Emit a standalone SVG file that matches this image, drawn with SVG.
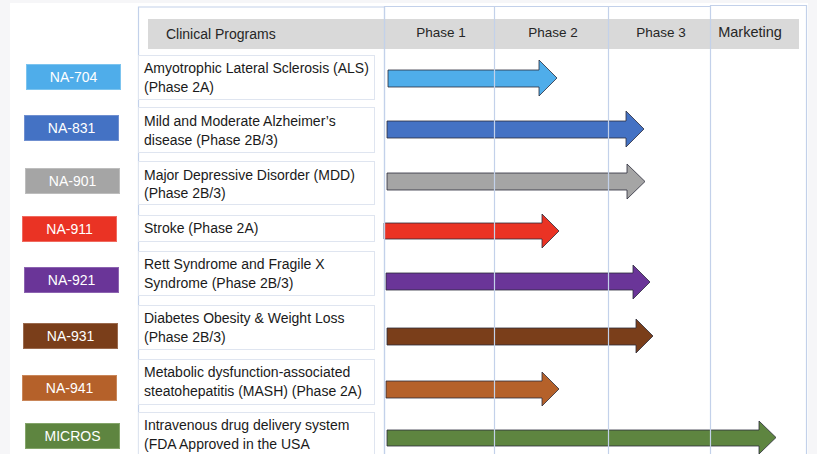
<svg xmlns="http://www.w3.org/2000/svg" width="817" height="454" viewBox="0 0 817 454">
<style>
  .bg{fill:#f6f6f8}
  .grid{fill:none;stroke:#c3d1ea;stroke-width:1.2}
  .hdr{fill:#d9d9d9}
  .ht{font-family:"Liberation Sans",Arial,sans-serif;font-size:13.5px;fill:#262626;text-anchor:middle}
  .htl{font-family:"Liberation Sans",Arial,sans-serif;font-size:14px;fill:#262626}
  .lt{font-family:"Liberation Sans",Arial,sans-serif;font-size:14px;fill:#ffffff;text-anchor:middle}
  .desc{fill:#ffffff;stroke:#dfe5f0;stroke-width:1}
  .dt{font-family:"Liberation Sans",Arial,sans-serif;font-size:14px;fill:#1a1a1a}
  .arr{stroke:#2b2b3a;stroke-width:0.8;stroke-linejoin:miter}
</style>
<rect class="bg" x="0" y="0" width="817" height="454"/>
<rect x="10" y="3" width="798" height="451" fill="#ffffff"/>

<g id="header">
  <rect class="hdr" x="148" y="19" width="651" height="30"/>
  <text class="htl" x="166" y="39">Clinical Programs</text>
  <text class="ht" x="441" y="37">Phase 1</text>
  <text class="ht" x="553" y="37">Phase 2</text>
  <text class="ht" x="661" y="37">Phase 3</text>
  <text class="ht" x="750" y="37" style="font-size:14.5px">Marketing</text>
</g>

<g id="arrows">
  <polygon class="arr" fill="#4fadea" points="388,70 539,70 539,60 557,78 539,96 539,87 388,87"/>
  <polygon class="arr" fill="#4472c4" points="387,121 626,121 626,111 644,129 626,147 626,138 387,138"/>
  <polygon class="arr" fill="#a5a5a5" points="387,173 627,173 627,164 645,181.5 627,199 627,190 387,190"/>
  <polygon class="arr" fill="#ea3324" points="384,223 542,223 542,214 559,231 542,248 542,239 384,239"/>
  <polygon class="arr" fill="#6a3598" points="386,273 633,273 633,265 650,282 633,299 633,290 386,290"/>
  <polygon class="arr" fill="#7a3e1a" points="387,328 636,328 636,319 653,336 636,353 636,345 387,345"/>
  <polygon class="arr" fill="#b5612a" points="386,381 542,381 542,372 559,389 542,406 542,398 386,398"/>
  <polygon class="arr" fill="#5e8540" points="387,430 759,430 759,421 776,437.5 759,454 759,446 387,446"/>
</g>

<g id="grid">
  <path class="grid" d="M138.5,460 V7 H384.5 V460"/>
  <path class="grid" d="M384.5,460 V6.5 H494.5 V460"/>
  <path class="grid" d="M494.5,6.5 H608.5 V460"/>
  <path class="grid" d="M608.5,6.5 H710.5"/>
  <path class="grid" d="M710.5,460 V5.5 H806.5 V460"/>
</g>

<g id="row-na704">
  <rect class="desc" x="138.5" y="55.5" width="236" height="44"/>
  <text class="dt" x="144" y="73">Amyotrophic Lateral Sclerosis (ALS)</text>
  <text class="dt" x="144" y="92">(Phase 2A)</text>
  <rect x="26.5" y="64.5" width="94" height="25" fill="#4fadea" stroke="#7cc4ef"/>
  <text class="lt" x="73.5" y="82">NA-704</text>
</g>

<g id="row-na831">
  <rect class="desc" x="138.5" y="107.5" width="236" height="45"/>
  <text class="dt" x="144" y="125.5">Mild and Moderate Alzheimer’s</text>
  <text class="dt" x="144" y="144.5">disease (Phase 2B/3)</text>
  <rect x="24.5" y="115.5" width="94" height="25" fill="#4472c4" stroke="#6f8fd0"/>
  <text class="lt" x="71.5" y="133">NA-831</text>
</g>

<g id="row-na901">
  <rect class="desc" x="138.5" y="161.5" width="236" height="43"/>
  <text class="dt" x="144" y="179.5">Major Depressive Disorder (MDD)</text>
  <text class="dt" x="144" y="198">(Phase 2B/3)</text>
  <rect x="25.5" y="168.5" width="94" height="25" fill="#a5a5a5" stroke="#bdbdbd"/>
  <text class="lt" x="72.5" y="186">NA-901</text>
</g>

<g id="row-na911">
  <rect class="desc" x="138.5" y="215.5" width="236" height="26"/>
  <text class="dt" x="144" y="233">Stroke (Phase 2A)</text>
  <rect x="22.5" y="216.5" width="94" height="25" fill="#ea3324" stroke="#f06a5f"/>
  <text class="lt" x="69.5" y="234">NA-911</text>
</g>

<g id="row-na921">
  <rect class="desc" x="138.5" y="251.5" width="236" height="44"/>
  <text class="dt" x="144" y="268.5">Rett Syndrome and Fragile X</text>
  <text class="dt" x="144" y="287.5">Syndrome (Phase 2B/3)</text>
  <rect x="24.5" y="267.5" width="94" height="25" fill="#6a3598" stroke="#8c63b0"/>
  <text class="lt" x="71.5" y="285">NA-921</text>
</g>

<g id="row-na931">
  <rect class="desc" x="138.5" y="305.5" width="236" height="44"/>
  <text class="dt" x="144" y="323">Diabetes Obesity &amp; Weight Loss</text>
  <text class="dt" x="144" y="341.5">(Phase 2B/3)</text>
  <rect x="23.5" y="323.5" width="94" height="25" fill="#7a3e1a" stroke="#9a6a4e"/>
  <text class="lt" x="70.5" y="341">NA-931</text>
</g>

<g id="row-na941">
  <rect class="desc" x="138.5" y="359.5" width="236" height="45"/>
  <text class="dt" x="144" y="377">Metabolic dysfunction-associated</text>
  <text class="dt" x="144" y="396">steatohepatitis (MASH) (Phase 2A)</text>
  <rect x="22.5" y="375.5" width="94" height="25" fill="#b5612a" stroke="#c98659"/>
  <text class="lt" x="69.5" y="393">NA-941</text>
</g>

<g id="row-micros">
  <rect class="desc" x="138.5" y="412.5" width="236" height="50"/>
  <text class="dt" x="144" y="430">Intravenous drug delivery system</text>
  <text class="dt" x="144" y="448.5">(FDA Approved in the USA</text>
  <rect x="25.5" y="423.5" width="94" height="25" fill="#5e8540" stroke="#84a56a"/>
  <text class="lt" x="72.5" y="441">MICROS</text>
</g>
</svg>
